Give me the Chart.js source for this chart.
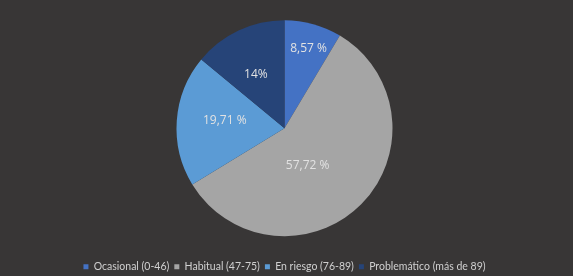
<!DOCTYPE html>
<html>
<head>
<meta charset="utf-8">
<script src="https://cdn.jsdelivr.net/npm/chart.js@4/dist/chart.umd.min.js"></script>
<style>
  html, body { margin: 0; padding: 0; background: #383636; }
  #wrap { width: 573px; height: 276px; }
</style>
</head>
<body>
<div id="wrap"><canvas id="pie"></canvas></div>
<script>
// datos del gráfico
const categorias = ["Ocasional (0-46)", "Habitual (47-75)", "En riesgo (76-89)", "Problemático (más de 89)"];
const porcentajes = [8.57, 57.72, 19.71, 14];
const etiquetas = ["8,57 %", "57,72 %", "19,71 %", "14%"];

// colores (arriba / abajo del degradado) y color del cuadro de leyenda
const coloresArriba = ["#587bc4", "#b6b6b6", "#6aa6dc", "#44598f"];
const coloresAbajo = ["#3464b4", "#9a9a9a", "#4689cf", "#1c346c"];
const coloresLeyenda = ["#4472c4", "#a5a5a5", "#5b9bd5", "#264478"];
// posición de cada etiqueta: distancia relativa al centro y desvío de ángulo (grados)
const radioEtiqueta = [0.79, 0.39, 0.56, 0.58];
const desvioEtiqueta = [1, 12, 5, -2];

function degradado(ctx, i) {
    const chart = ctx.chart;
    const arc = chart.getDatasetMeta(0).data[i];
    if (!arc || !arc.outerRadius) return coloresLeyenda[i];
    const g = chart.ctx.createLinearGradient(0, arc.y - arc.outerRadius, 0, arc.y + arc.outerRadius);
    g.addColorStop(0, coloresArriba[i]);
    g.addColorStop(1, coloresAbajo[i]);
    return g;
}

// etiquetas dentro de las porciones
const etiquetasPlugin = {
    id: 'etiquetas',
    afterDatasetsDraw(chart) {
        const ctx = chart.ctx;
        const meta = chart.getDatasetMeta(0);
        ctx.save();
        ctx.font = '12px "Open Sans", sans-serif';
        ctx.fillStyle = '#e2e2e2';
        ctx.textAlign = 'center';
        ctx.textBaseline = 'middle';
        meta.data.forEach((arc, i) => {
            const mid = (arc.startAngle + arc.endAngle) / 2 + desvioEtiqueta[i] * Math.PI / 180;
            const r = arc.outerRadius * radioEtiqueta[i];
            ctx.fillText(etiquetas[i], arc.x + Math.cos(mid) * r, arc.y + Math.sin(mid) * r + 2);
        });
        ctx.restore();
    }
};

new Chart(document.getElementById("pie").getContext("2d"), {
    type: 'pie',
    data: {
        labels: categorias,
        datasets: [{
            data: porcentajes,
            backgroundColor: (ctx) => degradado(ctx, ctx.dataIndex),
            borderWidth: 0
        }]
    },
    options: {
        responsive: true,
        maintainAspectRatio: false,
        animation: false,
        radius: 108,
        layout: { padding: { top: -2, bottom: -6, right: 4 } },
        plugins: {
            tooltip: { enabled: false },
            legend: {
                position: 'bottom',
                labels: {
                    color: '#d0d0d0',
                    font: { family: 'Lato, sans-serif', size: 10.5 },
                    boxWidth: 5,
                    boxHeight: 5,
                    padding: 5,
                    generateLabels: (chart) => categorias.map((c, i) => ({
                        text: c,
                        fillStyle: coloresLeyenda[i],
                        strokeStyle: coloresLeyenda[i],
                        lineWidth: 0,
                        fontColor: '#d0d0d0',
                        index: i
                    }))
                }
            }
        }
    },
    plugins: [etiquetasPlugin]
});
</script>
</body>
</html>
